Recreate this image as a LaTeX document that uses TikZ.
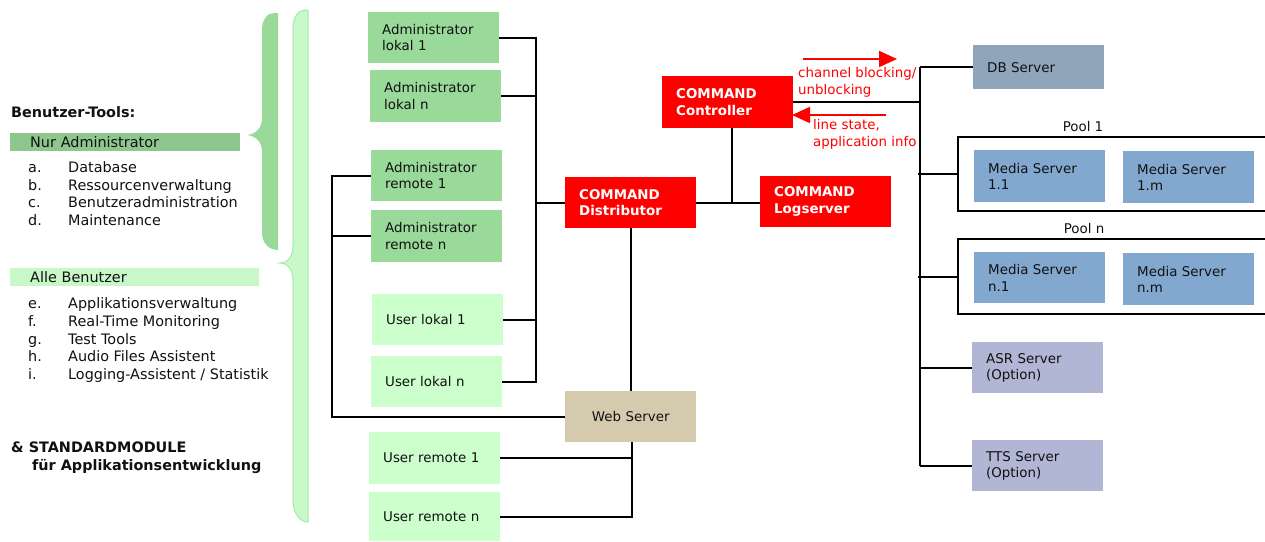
\documentclass[tikz,border=0pt]{standalone}
\usepackage{fontspec}
\setmainfont{DejaVu Sans}
\usetikzlibrary{arrows.meta}
\definecolor{admgreen}{HTML}{99D999}
\definecolor{usrgreen}{HTML}{CCFFCC}
\definecolor{nurbar}{HTML}{8EC78E}
\definecolor{allebar}{HTML}{C8F7C8}
\definecolor{bracedark}{HTML}{99D999}
\definecolor{bracelight}{HTML}{C9F9C9}
\definecolor{bracelightline}{HTML}{A6EAA6}
\definecolor{cmdred}{HTML}{FF0000}
\definecolor{webtan}{HTML}{D4CBAE}
\definecolor{dbgray}{HTML}{8FA5BA}
\definecolor{mediablue}{HTML}{82A8D0}
\definecolor{optblue}{HTML}{B0B6D3}
\definecolor{txt}{HTML}{111111}
\begin{document}
\begin{tikzpicture}[x=1pt,y=-1pt,
  bx/.style={rectangle, anchor=north west, inner xsep=14pt, inner ysep=0pt,
    text width=103pt, minimum height=51pt, align=left, text=txt,
    font=\fontsize{13.4}{16.5}\selectfont},
  adm/.style={bx, fill=admgreen},
  usr/.style={bx, fill=usrgreen},
  cmd/.style={bx, fill=cmdred, text=white, font=\fontsize{13.4}{16.5}\selectfont\bfseries},
  web/.style={bx, fill=webtan, align=center},
  db/.style={bx, fill=dbgray, minimum height=44pt},
  media/.style={bx, fill=mediablue},
  opt/.style={bx, fill=optblue},
  pool/.style={rectangle, anchor=north west, inner sep=0pt, minimum width=312pt},
  poolline/.style={line width=2pt, black},
  conn/.style={line width=2pt, black},
  redarrow/.style={line width=2pt, cmdred, -{Triangle[length=18pt,width=16pt]}},
  redtxt/.style={anchor=west, align=left, text=cmdred, inner sep=0pt,
    font=\fontsize{13.4}{16.5}\selectfont},
  lefttxt/.style={anchor=base west, inner sep=0pt, text=txt, font=\fontsize{14.4}{17.5}\selectfont},
  leftbold/.style={lefttxt, font=\fontsize{14.4}{17.5}\selectfont\bfseries},
  bar/.style={rectangle, anchor=north west, inner ysep=0pt, inner xsep=20pt,
    minimum height=18pt, align=left, text=txt, font=\fontsize{14.4}{17.5}\selectfont},
  poollabel/.style={inner sep=0pt, text=txt, font=\fontsize{13.4}{16.5}\selectfont}
]
\useasboundingbox (0,0) rectangle (1265,541);
\fill[white] (0,0) rectangle (1265,541);

% braces
\fill[bracedark] (278,13) -- (278,250) .. controls (269,250) and (262,243) .. (262,233)
  -- (262,152) .. controls (262,142) and (256,136) .. (247,135)
  .. controls (256,134) and (262,128) .. (262,118)
  -- (262,30) .. controls (262,20) and (267,13) .. (274,13) -- cycle;
\filldraw[fill=bracelight, draw=bracelightline, line width=1pt]
  (308,10) -- (308,522) .. controls (299,522) and (293,512) .. (293,500)
  -- (293,280) .. controls (293,270) and (288,263) .. (280,263)
  .. controls (288,263) and (293,256) .. (293,246)
  -- (293,28) .. controls (293,18) and (298,10) .. (305,10) -- cycle;

% left panel
\node[leftbold] (tools) at (11,117) {Benutzer-Tools:};
\node[bar, fill=nurbar, text width=190pt] (nur) at (10,133) {Nur Administrator};
\node[lefttxt] (la) at (28,172.5) {a.};
\node[lefttxt] (ta) at (68,172.5) {Database};
\node[lefttxt] (lb) at (28,190) {b.};
\node[lefttxt] (tb) at (68,190) {Ressourcenverwaltung};
\node[lefttxt] (lc) at (28,207.5) {c.};
\node[lefttxt] (tc) at (68,207.5) {Benutzeradministration};
\node[lefttxt] (ld) at (28,225) {d.};
\node[lefttxt] (td) at (68,225) {Maintenance};
\node[bar, fill=allebar, text width=209pt] (alle) at (10,268) {Alle Benutzer};
\node[lefttxt] (le) at (28,308.5) {e.};
\node[lefttxt] (te) at (68,308.5) {Applikationsverwaltung};
\node[lefttxt] (lf) at (28,326) {f.};
\node[lefttxt] (tf) at (68,326) {Real-Time Monitoring};
\node[lefttxt] (lg) at (28,344) {g.};
\node[lefttxt] (tg) at (68,344) {Test Tools};
\node[lefttxt] (lh) at (28,361.5) {h.};
\node[lefttxt] (th) at (68,361.5) {Audio Files Assistent};
\node[lefttxt] (li) at (28,379) {i.};
\node[lefttxt] (ti) at (68,379) {Logging-Assistent / Statistik};
\node[leftbold] (std1) at (11,452) {\& STANDARDMODULE};
\node[leftbold] (std2) at (32,470) {für Applikationsentwicklung};

% user boxes
\node[adm] (al1) at (368,12) {Administrator\\lokal 1};
\node[adm, minimum height=52pt] (aln) at (370,70) {Administrator\\lokal n};
\node[adm] (ar1) at (371,150) {Administrator\\remote 1};
\node[adm, minimum height=52pt] (arn) at (371,210) {Administrator\\remote n};
\node[usr] (ul1) at (372,294) {User lokal 1};
\node[usr] (uln) at (371,356) {User lokal n};
\node[usr, minimum height=52pt] (ur1) at (369,432) {User remote 1};
\node[usr, minimum height=49pt] (urn) at (369,492) {User remote n};

% command boxes
\node[cmd] (dist) at (565,177) {COMMAND\\Distributor};
\node[cmd, minimum height=52pt] (ctrl) at (662,76) {COMMAND\\Controller};
\node[cmd] (log) at (760,176) {COMMAND\\Logserver};
\node[web] (web) at (565,391) {Web Server};

% servers
\node[db] (db) at (973,45) {DB Server};
\node[pool, minimum height=74pt] (pool1) at (958,137) {};
\node[pool, minimum height=75pt] (pooln) at (958,239) {};
\node[poollabel] (p1lab) at (1083,127) {Pool 1};
\node[poollabel] (pnlab) at (1084,229) {Pool n};
\node[media, minimum height=52pt] (ms11) at (974,150) {Media Server\\1.1};
\node[media, minimum height=52pt] (ms1m) at (1123,151) {Media Server\\1.m};
\node[media] (msn1) at (974,252) {Media Server\\n.1};
\node[media, minimum height=52pt] (msnm) at (1123,253) {Media Server\\n.m};
\node[opt] (asr) at (972,342) {ASR Server\\(Option)};
\node[opt] (tts) at (972,440) {TTS Server\\(Option)};

\draw[poolline] (pool1.north east) -- (pool1.north west) -- (pool1.south west) -- (pool1.south east);
\draw[poolline] (pooln.north east) -- (pooln.north west) -- (pooln.south west) -- (pooln.south east);

% bus coordinates
\coordinate (busA) at (536,0);
\coordinate (busB) at (332,0);
\coordinate (busC) at (632,0);
\coordinate (ctlx) at (732,0);
\coordinate (busD) at (920,0);

% connectors: local users to distributor
\draw[conn] (al1.east) -- (al1.east -| busA) -- (uln.east -| busA) -- (uln.east);
\draw[conn] (aln.east) -- (aln.east -| busA);
\draw[conn] (ul1.east) -- (ul1.east -| busA);
\draw[conn] (dist.west) -- (dist.west -| busA);
% remote admins to web server
\draw[conn] (ar1.west) -- (ar1.west -| busB) -- (web.west -| busB) -- (web.west);
\draw[conn] (arn.west) -- (arn.west -| busB);
% distributor - web server
\draw[conn] (dist.south) -- (web.north);
% web server to remote users
\draw[conn] (web.south -| busC) -- (urn.east -| busC) -- (urn.east);
\draw[conn] (ur1.east) -- (ur1.east -| busC);
% distributor - logserver - controller
\draw[conn] (dist.east) -- (dist.east -| log.west);
\draw[conn] (ctrl.south -| ctlx) -- (dist.east -| ctlx);
% controller to server bus
\draw[conn] (ctrl.east) -- (ctrl.east -| busD);
\draw[conn] (db.west -| busD) -- (tts.west -| busD);
\draw[conn] (db.west) -- (db.west -| busD);
\draw[conn] (pool1.west) -- ([xshift=-2pt]pool1.west -| busD);
\draw[conn] (pooln.west) -- ([xshift=-2pt]pooln.west -| busD);
\draw[conn] (asr.west) -- (asr.west -| busD);
\draw[conn] (tts.west) -- (tts.west -| busD);

% red arrows and labels
\coordinate (a1s) at (803,59);
\coordinate (a1e) at (897,59);
\coordinate (a2s) at (886,115);
\coordinate (a2e) at (792,115);
\draw[redarrow] (a1s) -- (a1e);
\draw[redarrow] (a2s) -- (a2e);
\node[redtxt] (lab1) at (798,82.5) {channel blocking/\\unblocking};
\node[redtxt] (lab2) at (813,134.5) {line state,\\application info};
\end{tikzpicture}
\end{document}
